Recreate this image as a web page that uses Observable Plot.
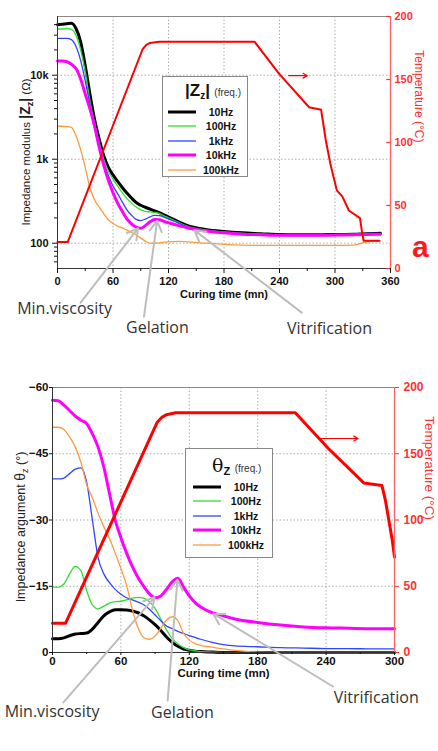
<!DOCTYPE html>
<html><head><meta charset="utf-8">
<script src="https://cdn.jsdelivr.net/npm/d3@7"></script>
<script src="https://cdn.jsdelivr.net/npm/@observablehq/plot@0.6"></script>
<style>
body{margin:0;background:#fff;font-family:Arial,"Liberation Sans",sans-serif;}
#wrap{position:relative;width:438px;height:751px;overflow:hidden;background:#fff;}
.panel{position:absolute;left:0;}
.ylab{position:absolute;transform:translate(-50%,-50%) rotate(-90deg);white-space:nowrap;color:#222;}
.legend{position:absolute;border:1px solid #888;background:#fff;box-sizing:border-box;}
.legend .row{position:absolute;font-weight:bold;font-size:10.5px;line-height:14px;transform:translateX(-50%);white-space:nowrap;color:#111;}
.legend svg{position:absolute;overflow:visible;}
.legend .ttl{position:absolute;white-space:nowrap;color:#111;}
sub{vertical-align:-0.25em;}
</style></head>
<body>
<div id="wrap">
  <div id="top" class="panel" style="top:0"></div>
  <div id="bot" class="panel" style="top:345px"></div>
  <div class="ylab" style="left:26px;top:152px;font-size:11.5px">Impedance modulus <b style="font-size:14px">|Z<sub style="font-size:9px">z</sub>|</b> (Ω)</div>
  <div class="ylab" style="left:21px;top:527px;font-size:12.5px">Impedance argument <span style="font-size:14px">θ<sub style="font-size:9px">z</sub></span> (°)</div>
  <div style="position:absolute;left:412px;top:232px;font:bold 30px/30px Arial,'Liberation Sans',sans-serif;color:#ff1a1a">a</div>
  <div id="legTop" class="legend" style="left:162px;top:76px;width:86px;height:101px"></div>
  <div id="legBot" class="legend" style="left:185px;top:448px;width:88px;height:110px"></div>
</div>
<script>
// ---------- data: top panel (impedance modulus, ohm) ----------
const zTime = [0,5,10,15,20,25,30,35,40,45,50,55,60,65,70,75,80,85,90,95,100,105,110,115,120,130,140,160,180,200,220,240,260,280,300,320,335,349];
const z10Hz  = [40000,40500,41000,41500,36000,25000,13000,6000,3000,1750,1100,800,650,545,460,395,345,305,283,268,255,243,232,217,205,182,163,146,138,133,130,127,126,126,127,128,130,131];
const z100Hz = [35500,35500,36000,35000,30000,20000,11000,5000,2700,1600,1000,720,580,480,400,340,300,270,250,240,236,233,226,212,201,179,160,144,136,131,128,126,125,125,126,127,129,130];
const z1kHz  = [27500,27500,27500,26500,22000,15000,8500,4500,2400,1400,900,640,480,390,310,250,215,192,186,194,206,214,213,205,195,175,158,142,135,130,127,125,124,124,125,126,128,129];
const z10kHz = [14800,14800,14500,13500,12000,9000,6000,4000,2500,1400,850,560,400,300,240,195,170,155,151,162,180,191,190,182,175,163,153,140,133,128,126,124,124,124,125,126,127,128];
const z100kHz= [2470,2470,2450,2400,1900,1300,800,460,330,270,225,190,172,160,152,143,135,126,115,106,100,100,101,103,104,105,104,100,97,95,94,94,94,94,94,95,104,106];
const tempTimeTop = [0,11,92,96,100,110,213,239,272,285,290,295,302,308,315,327,329,331,348];
const tempTop     = [21,21,174,177.5,179,180,180,155,128,126,102,83,62,57,46,40,30,22,22];

// ---------- data: bottom panel (impedance argument, degrees) ----------
const thTime = [0,5,10,15,20,25,30,35,40,45,50,55,60,65,70,75,80,85,90,95,100,105,110,115,120,125,130,140,150,160,180,200,220,240,260,280,300];
const th10Hz  = [-3.1,-3.1,-3.3,-3.8,-4.2,-4.3,-4.4,-5.3,-6.8,-8.3,-9.2,-9.7,-9.7,-9.6,-9.4,-9.0,-8.3,-7.4,-6.3,-5.0,-3.5,-2.3,-1.4,-0.8,-0.5,-0.3,-0.2,-0.1,0,0,0,0,0,0,0,0,0];
const th100Hz = [-14.8,-14.8,-15.5,-17.8,-19.5,-18.5,-14,-10.8,-9.9,-10.5,-11.2,-11.5,-11.6,-11.9,-12.3,-12.5,-12.3,-11.5,-10,-7.6,-5.1,-3.2,-1.9,-1.1,-0.6,-0.4,-0.2,-0.1,0,0,0,0,0,0,0,0,0];
const th1kHz  = [-39.3,-39.3,-39.5,-40.5,-41.5,-41.8,-38.5,-30,-21.5,-17.8,-15.8,-14.3,-13.2,-12.4,-11.9,-11.4,-10.8,-9.8,-8.5,-7.2,-6,-5.4,-4.8,-4.3,-3.8,-3.4,-3.0,-2.3,-1.8,-1.5,-1.3,-1.1,-1.0,-0.9,-0.9,-0.8,-0.8];
const th10kHz = [-57.1,-57,-56,-54.8,-53.5,-52.6,-51.8,-49.5,-46.5,-42,-36,-30,-26,-22.5,-19.5,-17,-15,-13.3,-12.4,-12.8,-14.3,-16,-16.8,-14.8,-12.8,-11.3,-10.3,-9.0,-8.3,-7.6,-6.8,-6.2,-5.8,-5.6,-5.5,-5.4,-5.4];
const th100kHz= [-51,-51,-50.5,-48.8,-46.5,-43,-38,-35,-31.5,-28.5,-25.8,-22.5,-19,-15.2,-9.8,-5.6,-3.4,-3.0,-3.7,-5.5,-7.3,-8.1,-7.2,-4.3,-2.8,-2.0,-1.6,-1.2,-0.8,-0.5,-0.1,0,0,0,0,0,0];
const tempTimeBot = [0,11.4,92,96,100,108,213,242,273,289,292,295,298,300];
const tempBot     = [22,22,174,177.5,179.5,181,181,154,128,126,115,100,85,72];

// ---------- labels, ticks ----------
const freqLabels = ["10Hz","100Hz","1kHz","10kHz","100kHz"];
const annLabels = ["Min.viscosity","Gelation","Vitrification"];
const xTicksTop = [0,60,120,180,240,300,360];
const xMinorTop = [30,90,150,210,270,330];
const xTicksBot = [0,60,120,180,240,300];
const xMinorBot = [30,90,150,210,270];
const zTicks = [100,1000,10000];
const zMinor = [60,70,80,90,200,300,400,500,600,700,800,900,2000,3000,4000,5000,6000,7000,8000,9000,20000,30000,40000];
const thTicks = [0,-15,-30,-45,-60];
const tempTicks = [0,50,100,150,200];

// annotation anchor points (data units)
const annTopText = {x:[7.6,108,294], y:[16.7,9.9,9.6]};
const annTopArrow = {x1:[25,93.5,264], y1:[19.6,13.4,14.9], x2:[87,107.7,148], y2:[150,184,143]};
const annBotText = {x:[-0.4,114,284], y:[13.4,13.6,10.2]};
const annBotArrow = {x1:[9.6,101,246], y1:[11.3,10.9,7.7], x2:[89.5,109.6,141], y2:[-12.5,-16.5,-8.8]};
const tempArrowTop = {x1:[250], x2:[270], T:[153]};
const tempArrowBot = {x1:[235], x2:[268], T:[161.5]};

// ---------- styles ----------
const colors = ["#000000","#2ee02e","#2f45ff","#ff00ff","#ff9a3c"];
const widthsTop = [3,1.3,1.3,3,1.3];
const widthsBot = [3,1.3,1.3,3,1.3];
const RED = "#ff0000", AXRED = "#ff3030";
const font = "Arial, 'Liberation Sans', sans-serif";

// ---------- mapping helpers for the secondary (temperature) axis ----------
const zMin = 50, zMax = 50000, decades = 3;
const tempToZ = T => Math.min(zMax, Math.max(zMin, zMin * Math.pow(10, decades * T / 200)));
const tempToTh = T => -0.3 * T;
const thToTemp = a => String(Math.round(-a / 0.3));
const fmtK = d => d >= 1000 ? (d / 1000) + "k" : String(d);

const rows = (ts, vs) => ts.map((t, i) => ({t, v: vs[i]}));
const seriesTop = [z10Hz, z100Hz, z1kHz, z10kHz, z100kHz];
const seriesBot = [th10Hz, th100Hz, th1kHz, th10kHz, th100kHz];
const grid = {stroke:"#9a9a9a", strokeOpacity:1, strokeDasharray:"1.5,2", strokeWidth:0.8};
const annStyle = {fontFamily:"'Open Sans', sans-serif", fontSize:16, fill:"#333"};
const arrStyle = {stroke:"#bdbdbd", strokeWidth:2, headLength:9};

// ---------- top panel ----------
const topPlot = Plot.plot({
  width: 438, height: 345,
  marginLeft: 57, marginRight: 48, marginTop: 16, marginBottom: 77,
  style: {fontFamily: font, fontSize: "11px", background: "transparent", overflow: "visible", color:"#111"},
  x: {domain: [0, 360]},
  y: {type: "log", domain: [zMin, zMax]},
  marks: [
    Plot.gridX(xTicksTop.slice(1, -1), grid),
    Plot.gridY(zTicks, grid),
    ...seriesTop.map((s, i) => Plot.line(rows(zTime, s), {x: "t", y: "v", stroke: colors[i], strokeWidth: widthsTop[i], curve: "monotone-x"})),
    Plot.line(rows(tempTimeTop, tempTop), {x: "t", y: d => tempToZ(d.v), stroke: RED, strokeWidth: 2}),
    Plot.ruleY([zMax], {stroke: "#888"}),
    Plot.ruleX([0], {stroke: "#333"}),
    Plot.ruleY([zMin], {stroke: "#333"}),
    Plot.axisX({ticks: xTicksTop, tickSize: 5, fontWeight: "bold", fontSize: 11, label: null}),
    Plot.axisX({ticks: xMinorTop, tickSize: 3, tickFormat: () => "", label: null}),
    Plot.axisY({ticks: zTicks, tickFormat: fmtK, tickSize: 5, fontWeight: "bold", fontSize: 11, label: null}),
    Plot.axisY({ticks: zMinor, tickSize: 3, tickFormat: () => "", label: null}),
    // secondary temperature axis (right)
    Plot.ruleX([360], {stroke: "#ff6060", strokeWidth: 1.3}),
    Plot.ruleY(tempTicks, {y: tempToZ, x1: () => 356, x2: () => 360, stroke: AXRED, strokeWidth: 1.2}),
    Plot.text(tempTicks, {x: () => 360, y: tempToZ, text: d => String(d), dx: 4, textAnchor: "start", fill: AXRED, fontWeight: "bold", fontSize: 11}),
    Plot.text(["Curing time (mn)"], {frameAnchor: "bottom", dy: 29, fontWeight: "bold", fontSize: 11}),
    Plot.text(["Temperature (°C)"], {frameAnchor: "right", dx: 28, rotate: 90, fill: AXRED, fontSize: 12}),
    Plot.arrow(annLabels, {x1: (d, i) => annTopArrow.x1[i], y1: (d, i) => annTopArrow.y1[i], x2: (d, i) => annTopArrow.x2[i], y2: (d, i) => annTopArrow.y2[i], ...arrStyle}),
    Plot.text(annLabels, {x: (d, i) => annTopText.x[i], y: (d, i) => annTopText.y[i], ...annStyle}),
    Plot.arrow(tempArrowTop.T, {x1: (d, i) => tempArrowTop.x1[i], x2: (d, i) => tempArrowTop.x2[i], y1: d => tempToZ(d), y2: d => tempToZ(d), stroke: RED, strokeWidth: 1.2, headLength: 6})
  ]
});
document.getElementById("top").appendChild(topPlot);

// ---------- bottom panel ----------
const botPlot = Plot.plot({
  width: 438, height: 406,
  marginLeft: 52, marginRight: 44, marginTop: 42, marginBottom: 99,
  style: {fontFamily: font, fontSize: "11px", background: "transparent", overflow: "visible", color:"#111"},
  x: {domain: [0, 300]},
  y: {domain: [0, -60]},
  marks: [
    Plot.gridX(xTicksBot.slice(1, -1), grid),
    Plot.gridY(thTicks.slice(1, -1), grid),
    ...seriesBot.map((s, i) => Plot.line(rows(thTime, s), {x: "t", y: "v", stroke: colors[i], strokeWidth: widthsBot[i], curve: "monotone-x"})),
    Plot.line(rows(tempTimeBot, tempBot), {x: "t", y: d => tempToTh(d.v), stroke: RED, strokeWidth: 3}),
    Plot.ruleY([-60], {stroke: "#888"}),
    Plot.ruleX([0], {stroke: "#333"}),
    Plot.ruleX([300], {stroke: "#ff6060", strokeWidth: 1.3}),
    Plot.ruleY([0], {stroke: "#333"}),
    Plot.axisX({ticks: xTicksBot, tickSize: 3, tickPadding: 1, fontWeight: "bold", fontSize: 11.5, label: null}),
    Plot.axisX({ticks: xMinorBot, tickSize: 2, tickFormat: () => "", label: null}),
    Plot.axisY({ticks: thTicks, tickSize: 3, tickPadding: 1, fontWeight: "bold", fontSize: 11.5, label: null}),
    Plot.axisY({anchor: "right", ticks: tempTicks.map(tempToTh), tickFormat: thToTemp, tickSize: 4, color: AXRED, fontWeight: "bold", fontSize: 12, label: null}),
    Plot.text(["Curing time (mn)"], {frameAnchor: "bottom", dy: 24, fontWeight: "bold", fontSize: 11.5}),
    Plot.text(["Temperature (°C)"], {frameAnchor: "right", dx: 35, rotate: 90, fill: AXRED, fontSize: 13.5}),
    Plot.arrow(annLabels, {x1: (d, i) => annBotArrow.x1[i], y1: (d, i) => annBotArrow.y1[i], x2: (d, i) => annBotArrow.x2[i], y2: (d, i) => annBotArrow.y2[i], ...arrStyle}),
    Plot.text(annLabels, {x: (d, i) => annBotText.x[i], y: (d, i) => annBotText.y[i], ...annStyle}),
    Plot.arrow(tempArrowBot.T, {x1: (d, i) => tempArrowBot.x1[i], x2: (d, i) => tempArrowBot.x2[i], y1: d => tempToTh(d), y2: d => tempToTh(d), stroke: RED, strokeWidth: 1.2, headLength: 6})
  ]
});
document.getElementById("bot").appendChild(botPlot);

// ---------- legends ----------
function buildLegend(el, cfg, widths) {
  const t = document.createElement("div");
  t.className = "ttl";
  t.style.left = cfg.titleLeft + "px";
  t.style.top = cfg.titleTop + "px";
  t.innerHTML = cfg.title;
  el.appendChild(t);
  freqLabels.forEach((lab, i) => {
    const cy = cfg.rowTop + i * cfg.rowGap;
    const svg = d3.create("svg").attr("width", cfg.sw2 - cfg.sw1).attr("height", 8)
      .style("left", cfg.sw1 + "px").style("top", (cy - 4) + "px");
    svg.append("line").attr("x1", 0).attr("x2", cfg.sw2 - cfg.sw1).attr("y1", 4).attr("y2", 4)
      .attr("stroke", colors[i]).attr("stroke-width", widths[i]);
    el.appendChild(svg.node());
    const r = document.createElement("div");
    r.className = "row";
    r.textContent = lab;
    r.style.left = cfg.labelCx + "px";
    r.style.top = (cy - 7) + "px";
    el.appendChild(r);
  });
}
buildLegend(document.getElementById("legTop"), {
  title: '<b style="font-size:17px">|Z<sub style="font-size:10px">z</sub>|</b> <span style="font-size:10px;color:#333">(freq.)</span>',
  titleLeft: 22, titleTop: 4, rowTop: 35, rowGap: 14.4, sw1: 5, sw2: 33, labelCx: 58
}, widthsTop);
buildLegend(document.getElementById("legBot"), {
  title: '<span style="font-size:19px;font-family:\'DejaVu Serif\',serif">θ</span><b style="font-size:11px;vertical-align:-0.3em">Z</b> <span style="font-size:10px;color:#333">(freq.)</span>',
  titleLeft: 26, titleTop: 5, rowTop: 38, rowGap: 14.4, sw1: 7, sw2: 35, labelCx: 60
}, widthsBot);
</script>
</body></html>
